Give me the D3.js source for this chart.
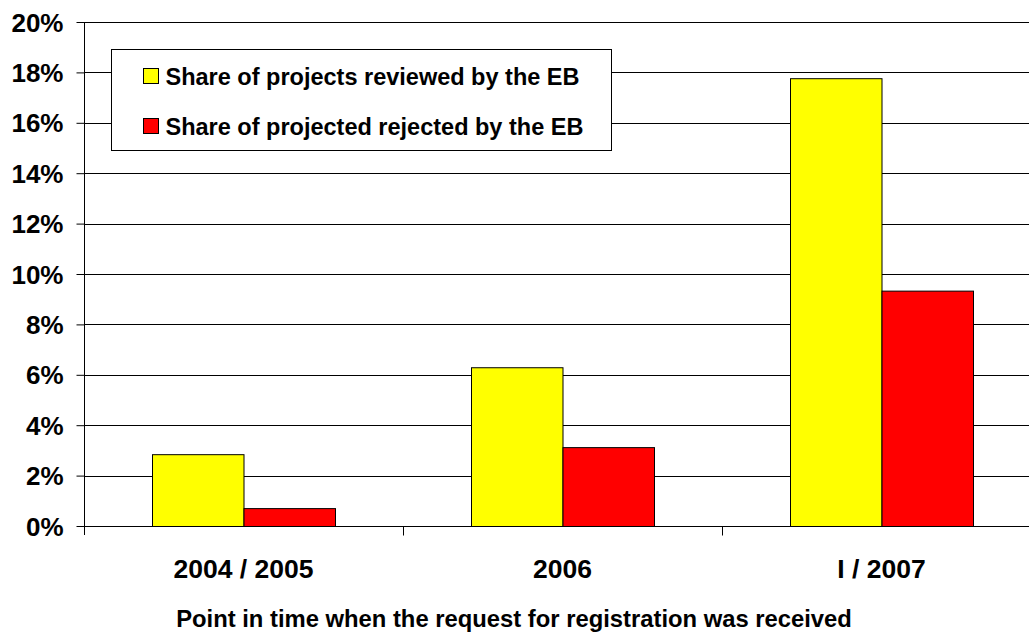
<!DOCTYPE html>
<html>
<head>
<meta charset="utf-8">
<script src="https://cdn.jsdelivr.net/npm/d3@7"></script>
<style>
  body { margin: 0; background: #fff; }
  svg { display: block; font-family: "Liberation Sans", Arial, sans-serif; font-weight: bold; }
</style>
</head>
<body>
<svg id="chart" width="1029" height="632"></svg>
<script>
let categories = ["2004 / 2005", "2006", "I / 2007"];
let seriesNames = ["Share of projects reviewed by the EB", "Share of projected rejected by the EB"];
let reviewed = [2.85, 6.3, 17.77];
let rejected = [0.71, 3.13, 9.34];
let yTicks = [0, 2, 4, 6, 8, 10, 12, 14, 16, 18, 20];
let colors = ["#ffff00", "#ff0000"];

let margins = { top: 22, right: -12, bottom: 106, left: 84 };
let width = 1029 - margins.left - margins.right;
let height = 632 - margins.top - margins.bottom;

let svg = d3.select("#chart");
let graph = svg.append("g")
  .attr("transform", "translate(" + margins.left + "," + margins.top + ")");

let xScale = d3.scaleBand().domain(categories).range([0, width]).paddingInner(0).paddingOuter(0);
let xInner = d3.scaleBand().domain([0, 1]).range([0, 183]);
let yScale = d3.scaleLinear().domain([0, 20]).range([height, 0]);

// gridlines
graph.append("g")
  .selectAll("line")
  .data(yTicks)
  .enter().append("line")
  .attr("x1", 0).attr("x2", width)
  .attr("y1", d => Math.round(yScale(d)) + 0.5)
  .attr("y2", d => Math.round(yScale(d)) + 0.5)
  .style("stroke", "#000")
  .style("stroke-width", 1);

// bars
let data = categories.map((c, i) => ({ cat: c, values: [reviewed[i], rejected[i]] }));
let groups = graph.selectAll(".grp")
  .data(data)
  .enter().append("g")
  .attr("transform", d => "translate(" + (xScale(d.cat) + (xScale.bandwidth() - 183) / 2) + ",0)");
groups.selectAll("rect")
  .data(d => d.values.map((v, k) => ({ k: k, v: v })))
  .enter().append("rect")
  .attr("x", d => xInner(d.k) + 0.5)
  .attr("width", xInner.bandwidth())
  .attr("y", d => yScale(d.v) + 0.5)
  .attr("height", d => height - yScale(d.v))
  .style("fill", d => colors[d.k])
  .style("stroke", "#000")
  .style("stroke-width", 1);

// y axis
let yAxis = d3.axisLeft(yScale).tickValues(yTicks).tickSize(8).tickPadding(13)
  .tickFormat(d => d + "%");
let yG = graph.append("g").attr("transform", "translate(0.5,0)").call(yAxis);
yG.select(".domain").attr("d", "M0," + yScale(20) + "V" + (height + 9));
yG.selectAll("line, path").style("stroke", "#000");
yG.selectAll("text").style("font-size", "26px").style("fill", "#000").style("font-weight", "bold")
  .attr("dy", "0.35em");

// x axis
let xAxis = d3.axisBottom(xScale).tickSize(0).tickPadding(0);
let xG = graph.append("g").attr("transform", "translate(0," + (height + 0.5) + ")").call(xAxis);
xG.select(".domain").attr("d", "M0,0H" + width).style("stroke", "#000");
xG.selectAll("text").style("font-size", "26.5px").style("fill", "#000").style("font-weight", "bold")
  .attr("y", 51).attr("dy", 0);
xG.selectAll(".sep")
  .data(categories.slice(1))
  .enter().append("line")
  .attr("class", "sep")
  .attr("x1", d => Math.round(xScale(d)) + 0.5)
  .attr("x2", d => Math.round(xScale(d)) + 0.5)
  .attr("y1", 0).attr("y2", 9)
  .style("stroke", "#000");

// axis title
svg.append("text")
  .attr("x", 514)
  .attr("y", 627)
  .attr("text-anchor", "middle")
  .style("font-size", "23.8px")
  .text("Point in time when the request for registration was received");

// legend
let legend = svg.append("g").attr("transform", "translate(111.5,49.5)");
legend.append("rect")
  .attr("width", 500).attr("height", 101)
  .style("fill", "#fff").style("stroke", "#000");
let items = legend.selectAll(".item")
  .data(seriesNames)
  .enter().append("g")
  .attr("transform", (d, i) => "translate(32," + (19 + i * 50) + ")");
items.append("rect")
  .attr("width", 15).attr("height", 15)
  .style("fill", (d, i) => colors[i])
  .style("stroke", "#000");
items.append("text")
  .attr("x", 22).attr("y", 16.5)
  .style("font-size", "23.5px")
  .text(d => d);
</script>
</body>
</html>
